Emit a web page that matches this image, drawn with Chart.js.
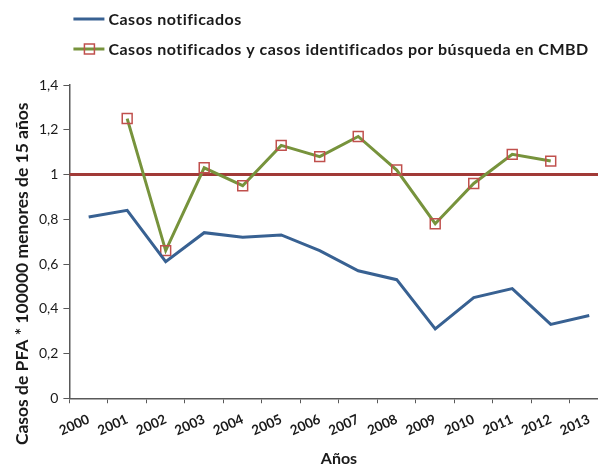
<!DOCTYPE html>
<html>
<head>
<meta charset="utf-8">
<script src="https://cdn.jsdelivr.net/npm/chart.js@4.4.1/dist/chart.umd.min.js"></script>
<style>
    html, body { margin: 0; padding: 0; background: #fff; overflow: hidden; }
    #wrap { width: 617px; height: 468px; }
</style>
</head>
<body>
<div id="wrap"><canvas id="chart"></canvas></div>
<script>
// ---- data ----
const years = ['2000', '2001', '2002', '2003', '2004', '2005', '2006',
               '2007', '2008', '2009', '2010', '2011', '2012', '2013'];

// Casos notificados
const notificados = [0.81, 0.84, 0.61, 0.74, 0.72, 0.73, 0.66,
                     0.57, 0.53, 0.31, 0.45, 0.49, 0.33, 0.37];

// Casos notificados y casos identificados por búsqueda en CMBD (no value for 2000 / 2013)
const conCMBD = [null, 1.25, 0.66, 1.03, 0.95, 1.13, 1.08,
                 1.17, 1.02, 0.78, 0.96, 1.09, 1.06, null];

// reference line (target rate = 1)
const umbral = 1;

const yTicks = { min: 0, max: 1.4, step: 0.2 };

const yTitle = 'Casos de PFA * 100000 menores de 15 años';

const colors = {
    blue: '#386192',
    green: '#77933C',
    marker: '#C0504D',
    refLine: '#A13A37',
    axis: '#595959',
    text: '#1a1a1a'
};

const FONT = 'Lato, "Open Sans", sans-serif';

// Legend drawn as two stacked rows at the top left, like the Excel original
const stackedLegend = {
    id: 'stackedLegend',
    afterDraw(chart) {
        const c = chart.ctx;
        const x0 = chart.chartArea.left + 4;
        const rows = [
            { ds: chart.data.datasets[0], y: 19 },
            { ds: chart.data.datasets[1], y: 49 }
        ];
        c.save();
        rows.forEach(r => {
            c.strokeStyle = r.ds.borderColor;
            c.lineWidth = 3;
            c.beginPath();
            c.moveTo(x0, r.y);
            c.lineTo(x0 + 31, r.y);
            c.stroke();
            if (r.ds.pointRadius > 0) {
                c.strokeStyle = r.ds.pointBorderColor;
                c.lineWidth = 1.5;
                c.strokeRect(x0 + 11, r.y - 5, 10, 10);
            }
            c.fillStyle = colors.text;
            c.font = 'bold 16px ' + FONT;
            c.letterSpacing = '0.5px';
            c.textBaseline = 'middle';
            c.textAlign = 'left';
            c.fillText(r.ds.label, x0 + 35, r.y + 1);
        });
        c.restore();
    }
};

// Vertical axis title: Excel centres it on the whole chart height, not the plot
const sideTitle = {
    id: 'sideTitle',
    afterDraw(chart) {
        const c = chart.ctx;
        c.save();
        c.translate(22, chart.height * 0.585);
        c.rotate(-Math.PI / 2);
        c.fillStyle = colors.text;
        c.font = 'bold 17.5px ' + FONT;
        c.textAlign = 'center';
        c.textBaseline = 'middle';
        c.fillText(yTitle, 0, 0);
        c.restore();
    }
};

new Chart(document.getElementById('chart'), {
    type: 'line',
    data: {
        labels: years,
        datasets: [
            {
                label: 'Casos notificados',
                data: notificados,
                borderColor: colors.blue,
                backgroundColor: colors.blue,
                borderWidth: 3,
                pointRadius: 0,
                tension: 0
            },
            {
                label: 'Casos notificados y casos identificados por búsqueda en CMBD',
                data: conCMBD,
                borderColor: colors.green,
                backgroundColor: colors.green,
                borderWidth: 3,
                pointStyle: 'rect',
                pointRadius: 7,
                pointBorderColor: colors.marker,
                pointBackgroundColor: 'transparent',
                pointBorderWidth: 1.5,
                tension: 0
            },
            {
                label: 'Umbral',
                data: [{ x: 0, y: umbral }, { x: 1, y: umbral }],
                xAxisID: 'x2',
                borderColor: colors.refLine,
                borderWidth: 3,
                pointRadius: 0
            }
        ]
    },
    options: {
        responsive: true,
        maintainAspectRatio: false,
        animation: false,
        layout: { padding: { top: 85, right: 5, left: 34, bottom: 0 } },
        plugins: {
            legend: { display: false },
            tooltip: { enabled: false }
        },
        scales: {
            x: {
                type: 'category',
                offset: true,
                grid: {
                    offset: true,
                    drawOnChartArea: false,
                    tickLength: 5,
                    color: colors.axis
                },
                border: { color: colors.axis, width: 1.5 },
                ticks: {
                    autoSkip: false,
                    minRotation: 24,
                    maxRotation: 24,
                    padding: 8,
                    color: colors.text,
                    font: { family: FONT, size: 13.5, weight: 'bold' }
                },
                title: {
                    display: true,
                    text: 'Años',
                    color: colors.text,
                    font: { family: FONT, size: 16, weight: 'bold' },
                    padding: { top: 2, bottom: 0 }
                }
            },
            x2: {
                type: 'linear',
                display: false,
                min: 0,
                max: 1
            },
            y: {
                min: yTicks.min,
                max: yTicks.max,
                grid: {
                    drawOnChartArea: false,
                    tickLength: 6,
                    color: colors.axis
                },
                border: { color: colors.axis, width: 1.5 },
                ticks: {
                    stepSize: yTicks.step,
                    color: colors.text,
                    padding: 5,
                    font: { family: FONT, size: 14 },
                    callback: v => String(Math.round(v * 10) / 10).replace('.', ',')
                }
            }
        }
    },
    plugins: [stackedLegend, sideTitle]
});
</script>
</body>
</html>
